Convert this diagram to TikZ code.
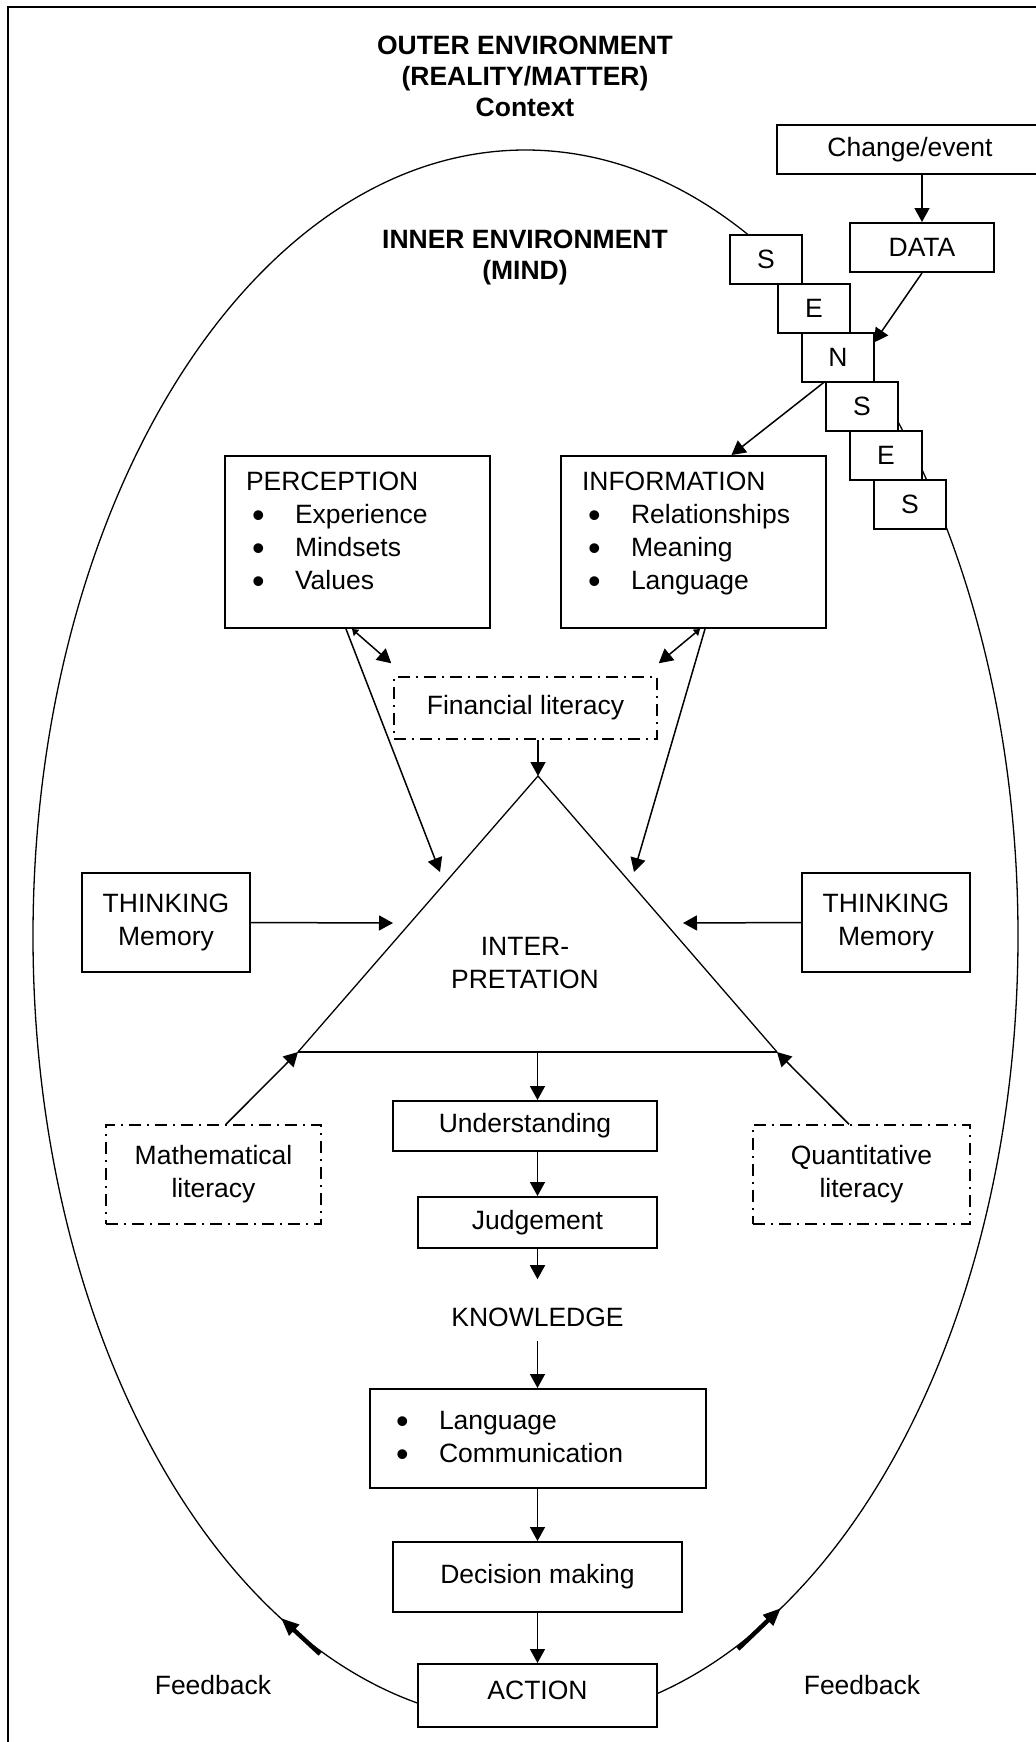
\documentclass[tikz,border=0pt]{standalone}
\usepackage{fontspec}
\setmainfont{Liberation Sans}
\usetikzlibrary{arrows.meta,positioning,calc}

\newcommand{\itm}{\hspace*{3pt}\makebox[21.5pt][l]{\raisebox{-2pt}{\scalebox{1.35}{\textbullet}}}}

\begin{document}
\begin{tikzpicture}[
    x=0.5pt, y=-0.5pt,
    font=\fontsize{13.25}{16.5}\selectfont,
    box/.style={draw, line width=1pt, fill=white, align=center, inner sep=0pt},
    litbox/.style={draw, line width=0.75pt, dash pattern=on 6pt off 3pt on 1pt off 3pt, align=center, inner sep=0pt},
    sensebox/.style={box, minimum width=36pt, minimum height=24.5pt, outer sep=0pt},
    envtitle/.style={font=\fontsize{13.25}{15.5}\selectfont\bfseries, align=center},
    arrow/.style={-{Triangle[length=7pt, width=7.5pt]}, line width=0.75pt},
    dblarrow/.style={{Triangle[length=3pt, width=4pt]}-{Triangle[length=7pt, width=7.5pt]}, line width=0.75pt},
    fbarrow/.style={-{Triangle[length=9pt, width=7pt]}, line width=2.2pt},
]
\useasboundingbox (0,0) rectangle (1036,1742);
\clip (0,0) rectangle (1036,1742);

% ---------- frame and environments ----------
\draw[line width=0.65pt] (8,7) rectangle (1060,1780);
\draw[line width=0.65pt] (525.5,936) ellipse [x radius=246.25pt, y radius=393pt];

\coordinate (fbl0) at (320,1654);
\coordinate (fbl1) at (281,1618);
\coordinate (fbr0) at (738,1649);
\coordinate (fbr1) at (781,1608);
\draw[fbarrow] (fbl0) -- (fbl1);
\draw[fbarrow] (fbr0) -- (fbr1);

\node[envtitle] (outer) at (525,76) {OUTER ENVIRONMENT\\(REALITY/MATTER)\\Context};
\node[envtitle] (inner) at (525,257.5) {INNER ENVIRONMENT\\(MIND)};

% ---------- change, data and the senses ----------
\node[box, minimum width=133pt, minimum height=24.5pt] (change) at (910,149.5) {Change/event};
\node[box, minimum width=72pt, minimum height=24.5pt] (data) at (922,247.5) {DATA};

\node[sensebox] (s1) at (766,259) {S};
\node[sensebox, below right=0pt and -12pt of s1] (e1) {E};
\node[sensebox, below right=0pt and -24pt of e1] (n1) {N};
\node[sensebox, below right=0pt and -24pt of n1] (s2) {S};
\node[sensebox, below right=0pt and -24pt of s2] (e2) {E};
\node[sensebox, below right=0pt and -24pt of e2] (s3) {S};

% ---------- perception / information ----------
\node[box, minimum width=132.5pt, minimum height=86pt, align=left, text width=111.5pt] (perc) at (357.5,542)
    {PERCEPTION\\ \itm Experience\\ \itm Mindsets\\ \itm Values\\[-5.5pt]\mbox{}};
\node[box, minimum width=132.5pt, minimum height=86pt, align=left, text width=111.5pt] (info) at (693.5,542)
    {INFORMATION\\ \itm Relationships\\ \itm Meaning\\ \itm Language\\[-5.5pt]\mbox{}};
\node[litbox, minimum width=131.5pt, minimum height=31pt] (fin) at (525.5,708) {Financial literacy};

% ---------- interpretation triangle ----------
\coordinate (apex) at (538,776);
\coordinate (tl) at (298,1052);
\coordinate (tr) at (777,1052);
\coordinate (bc) at (537.5,1052);
\draw[line width=0.65pt] (tl) -- (apex) -- (tr);
\draw[line width=1pt] (tl) -- (tr);
\node[align=center] (interp) at (525,963) {INTER-\\PRETATION};

\node[box, minimum width=84pt, minimum height=49.5pt] (thinkl) at (166,922.5) {THINKING\\Memory};
\node[box, minimum width=84pt, minimum height=49.5pt] (thinkr) at (886,922.5) {THINKING\\Memory};
\node[litbox, minimum width=107.5pt, minimum height=49.5pt] (math) at (213.5,1174.5) {Mathematical\\literacy};
\node[litbox, minimum width=108.5pt, minimum height=49.5pt] (quant) at (861.5,1174.5) {Quantitative\\literacy};

% ---------- central column ----------
\node[box, minimum width=132pt, minimum height=25pt] (und) at (525,1126) {Understanding};
\node[box, minimum width=119.5pt, minimum height=25.5pt] (judg) at (537.5,1222.5) {Judgement};
\node[inner sep=0pt] (know) at (537.5,1317) {KNOWLEDGE};
\node[box, minimum width=168pt, minimum height=49.5pt, align=left, text width=148pt] (lang) at (538,1438.5)
    {\itm Language\\ \itm Communication};
\node[box, minimum width=144.5pt, minimum height=35pt] (dec) at (537.5,1577) {Decision making};
\node[box, minimum width=119.5pt, minimum height=31.5pt, text depth=5.5pt] (act) at (537.5,1695.5) {ACTION};

\node (fbl) at (213,1685) {Feedback};
\node (fbr) at (862,1685) {Feedback};

% ---------- arrows: top ----------
\coordinate (pin) at (440,872);
\coordinate (iin) at (634,872);
\coordinate (tinl) at (393,923);
\coordinate (tinr) at (683,923);

\draw[arrow] (change.south -| data.north) -- (data.north);
\draw[arrow] (data.south) -- ([yshift=-5pt]n1.north east);
\draw[arrow] ([xshift=11.5pt]n1.south west) -- ([xshift=19pt]info.north);

\draw[arrow] ($(perc.south)+(-11.5,0)$) -- (pin);
\draw[arrow] ($(info.south)+(11.5,0)$) -- (iin);
\draw[dblarrow] ($(perc.south)+(-5.5,0)$) -- ($(fin.north west)+(-2,-13)$);
\draw[dblarrow] ($(info.south)+(6.5,0)$) -- ($(fin.north east)+(1,-13)$);
\draw[arrow] (fin.south -| apex) -- (apex);

% ---------- arrows: around the triangle ----------
\draw[arrow] (thinkl.east) -- (tinl);
\draw[arrow] (thinkr.west) -- (tinr);
\draw[arrow] ($(math.north)+(12.5,0)$) -- (tl);
\draw[arrow] ($(quant.north)+(-12.5,0)$) -- (tr);

% ---------- arrows: central column ----------
\draw[arrow] (bc) -- (bc |- und.north);
\draw[arrow] (und.south -| judg.north) -- (judg.north);
\draw[arrow, shorten >=14pt] (judg.south) -- (know.north);
\draw[arrow, shorten <=7pt] (know.south) -- (know.south |- lang.north);
\draw[arrow] (lang.south -| dec.north) -- (dec.north);
\draw[arrow] (dec.south) -- (act.north);

\end{tikzpicture}
\end{document}
